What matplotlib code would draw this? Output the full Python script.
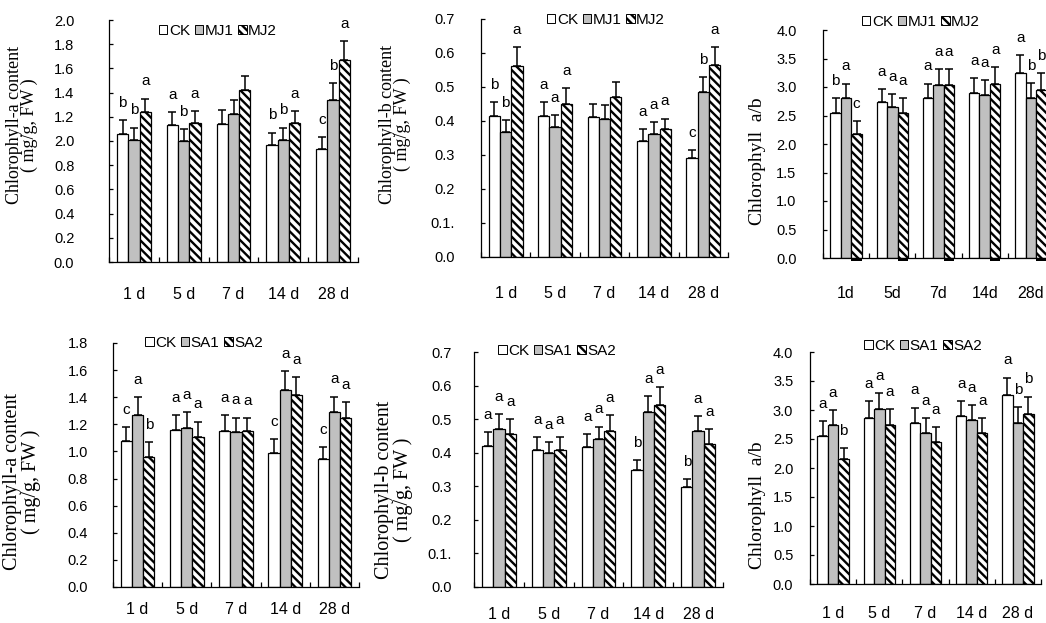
import matplotlib
matplotlib.use('Agg')
import matplotlib.pyplot as plt
from matplotlib.patches import Patch
import numpy as np

plt.rcParams['font.family'] = ['Liberation Sans', 'DejaVu Sans']
plt.rcParams['hatch.linewidth'] = 1.7

W, H = 1046, 623

days_sp = ['1 d', '5 d', '7 d', '14 d', '28 d']
days_ns = ['1d', '5d', '7d', '14d', '28d']

# ---------- Top row: methyl jasmonate (MJ) ----------
mj_names = ['CK', 'MJ1', 'MJ2']
mj_a_ck = [1.06, 1.13, 1.14, 0.97, 0.93]
mj_a_mj1 = [1.01, 1.00, 1.22, 1.01, 1.34]
mj_a_mj2 = [1.24, 1.15, 1.42, 1.15, 1.67]
mj_a_ck_err = [0.11, 0.11, 0.12, 0.10, 0.10]
mj_a_mj1_err = [0.10, 0.10, 0.12, 0.10, 0.14]
mj_a_mj2_err = [0.11, 0.10, 0.12, 0.10, 0.155]
mj_a_letters = [['b', 'b', 'a'], ['a', 'b', 'a'], ['', '', ''], ['b', 'b', 'a'], ['c', 'b', 'a']]

mj_b_ck = [0.416, 0.416, 0.411, 0.341, 0.291]
mj_b_mj1 = [0.367, 0.382, 0.406, 0.361, 0.485]
mj_b_mj2 = [0.562, 0.451, 0.472, 0.377, 0.566]
mj_b_ck_err = [0.04, 0.04, 0.04, 0.035, 0.024]
mj_b_mj1_err = [0.035, 0.035, 0.04, 0.035, 0.045]
mj_b_mj2_err = [0.055, 0.045, 0.044, 0.03, 0.052]
mj_b_letters = [['b', 'b', 'a'], ['a', 'a', 'a'], ['', '', ''], ['a', 'a', 'a'], ['c', 'b', 'a']]

mj_r_ck = [2.55, 2.74, 2.80, 2.89, 3.25]
mj_r_mj1 = [2.80, 2.65, 3.03, 2.86, 2.80]
mj_r_mj2 = [2.17, 2.55, 3.03, 3.06, 2.95]
mj_r_ck_err = [0.25, 0.23, 0.26, 0.26, 0.31]
mj_r_mj1_err = [0.26, 0.23, 0.28, 0.26, 0.27]
mj_r_mj2_err = [0.23, 0.25, 0.29, 0.29, 0.30]
mj_r_letters = [['b', 'a', 'c'], ['a', 'a', 'a'], ['a', 'a', 'a'], ['a', 'a', 'a'], ['a', 'b', 'b']]

# ---------- Bottom row: salicylic acid (SA) ----------
sa_names = ['CK', 'SA1', 'SA2']
sa_a_ck = [1.08, 1.16, 1.15, 0.99, 0.945]
sa_a_sa1 = [1.27, 1.17, 1.14, 1.455, 1.29]
sa_a_sa2 = [0.96, 1.11, 1.15, 1.42, 1.245]
sa_a_ck_err = [0.10, 0.11, 0.12, 0.10, 0.086]
sa_a_sa1_err = [0.13, 0.12, 0.11, 0.135, 0.115]
sa_a_sa2_err = [0.11, 0.11, 0.095, 0.128, 0.12]
sa_a_letters = [['c', 'a', 'b'], ['a', 'a', 'a'], ['a', 'a', 'a'], ['c', 'a', 'a'], ['c', 'a', 'a']]

sa_b_ck = [0.421, 0.408, 0.418, 0.349, 0.298]
sa_b_sa1 = [0.471, 0.398, 0.441, 0.52, 0.466]
sa_b_sa2 = [0.456, 0.408, 0.466, 0.543, 0.425]
sa_b_ck_err = [0.04, 0.038, 0.038, 0.03, 0.024]
sa_b_sa1_err = [0.044, 0.033, 0.037, 0.048, 0.043]
sa_b_sa2_err = [0.044, 0.038, 0.047, 0.053, 0.045]
sa_b_letters = [['a', 'a', 'a'], ['a', 'a', 'a'], ['a', 'a', 'a'], ['b', 'a', 'a'], ['b', 'a', 'a']]

sa_r_ck = [2.55, 2.86, 2.78, 2.89, 3.26]
sa_r_sa1 = [2.75, 3.01, 2.61, 2.835, 2.78]
sa_r_sa2 = [2.15, 2.75, 2.45, 2.61, 2.93]
sa_r_ck_err = [0.26, 0.29, 0.26, 0.26, 0.30]
sa_r_sa1_err = [0.25, 0.28, 0.25, 0.25, 0.27]
sa_r_sa2_err = [0.19, 0.27, 0.25, 0.25, 0.30]
sa_r_letters = [['a', 'a', 'b'], ['a', 'a', 'a'], ['a', 'a', 'a'], ['a', 'a', 'a'], ['a', 'b', 'b']]

yt_a_top = [0.0, 0.2, 0.4, 0.6, 0.8, 1.0, 1.2, 1.4, 1.6, 1.8, 2.0]
yl_a_top = ['0.0', '0.2', '0.4', '0.6', '0.8', '2.0', '1.2', '1.4', '1.6', '1.8', '2.0']
yt_a_bot = [0.0, 0.2, 0.4, 0.6, 0.8, 1.0, 1.2, 1.4, 1.6, 1.8]
yl_a_bot = ['0.0', '0.2', '0.4', '0.6', '0.8', '1.0', '1.2', '1.4', '1.6', '1.8']
yt_b = [0.0, 0.1, 0.2, 0.3, 0.4, 0.5, 0.6, 0.7]
yl_b = ['0.0', '0.1.', '0.2', '0.3', '0.4', '0.5', '0.6', '0.7']
yt_r = [0.0, 0.5, 1.0, 1.5, 2.0, 2.5, 3.0, 3.5, 4.0]
yl_r = ['0.0', '0.5', '1.0', '1.5', '2.0', '2.5', '3.0', '3.5', '4.0']

lab_a = 'Chlorophyll-a content\n( mg/g, FW )'
lab_b = 'Chlorophyll-b content\n( mg/g, FW )'
lab_r = 'Chlorophyll  a/b'

fig = plt.figure(figsize=(W / 100, H / 100), dpi=100)

BAR_STYLES = [dict(facecolor='white'),
              dict(facecolor='#c0c0c0'),
              dict(facecolor='white', hatch='\\\\\\\\')]


def px_rect(x0, x1, ytop, ybot):
    return [x0 / W, 1 - ybot / H, (x1 - x0) / W, (ybot - ytop) / H]


def panel(box, series, errs, letters, names, yticks, yticklabels, xlabels,
          ylabel, ylab_pos, ylab_size, legend_pos, ypad, xpad, base_block=False):
    ax = fig.add_axes(px_rect(*box))
    x = np.arange(len(xlabels))
    w = 0.227
    for i in range(3):
        pos = x + (i - 1) * w
        vals = np.asarray(series[i])
        err = np.asarray(errs[i])
        ax.bar(pos, vals, w, edgecolor='black', linewidth=0.9, zorder=2,
               **BAR_STYLES[i])
        ax.errorbar(pos, vals, yerr=[np.zeros_like(err), err], fmt='none',
                    ecolor='black', elinewidth=1.1, capsize=2.6, capthick=1.1,
                    zorder=3)
        if base_block and i == 2:
            ax.bar(pos, np.full_like(vals, yticks[-1] * 0.014), w,
                   bottom=-yticks[-1] * 0.014, color='black', zorder=4,
                   clip_on=False)
        for p, v, e, grp in zip(pos, vals, err, letters):
            if grp[i]:
                ax.annotate(grp[i], (p, v + e), xytext=(0, 9.5),
                            textcoords='offset points', ha='center',
                            va='baseline', fontsize=11)
    ax.set_xlim(-0.5, len(xlabels) - 0.5)
    ax.set_ylim(yticks[0], yticks[-1])
    for s in ['top', 'right']:
        ax.spines[s].set_visible(False)
    for s in ['left', 'bottom']:
        ax.spines[s].set_linewidth(0.9)
    ax.set_yticks(yticks)
    ax.set_yticklabels(yticklabels)
    ax.tick_params(axis='y', direction='in', length=3, width=0.9,
                   labelsize=10.5, pad=ypad)
    ax.set_xticks(np.arange(-0.5, len(xlabels), 1.0))
    ax.set_xticklabels([])
    ax.set_xticks(x, minor=True)
    ax.set_xticklabels(xlabels, minor=True)
    ax.tick_params(axis='x', which='major', direction='in', length=3.5,
                   width=0.9)
    ax.tick_params(axis='x', which='minor', length=0, labelsize=11.5, pad=xpad)
    handles = [Patch(edgecolor='black', linewidth=0.7, **BAR_STYLES[i],
                     label=names[i]) for i in range(3)]
    ax.legend(handles=handles, loc='center',
              bbox_to_anchor=(legend_pos[0] / W, 1 - legend_pos[1] / H),
              bbox_transform=fig.transFigure, ncol=3, frameon=False,
              handlelength=0.55, handleheight=0.55, handletextpad=0.1,
              columnspacing=0.3, fontsize=11, borderpad=0, borderaxespad=0)
    fig.text(ylab_pos[0] / W, 1 - ylab_pos[1] / H, ylabel, rotation=90,
             ha='center', va='center', multialignment='center',
             family='Liberation Serif', fontsize=ylab_size, linespacing=0.9)
    return ax


panel((109, 358, 20, 262), [mj_a_ck, mj_a_mj1, mj_a_mj2],
      [mj_a_ck_err, mj_a_mj1_err, mj_a_mj2_err], mj_a_letters, mj_names,
      yt_a_top, yl_a_top, days_sp, lab_a, (22, 125), 13, (218, 31), 25, 18)
panel((481, 728, 19, 257), [mj_b_ck, mj_b_mj1, mj_b_mj2],
      [mj_b_ck_err, mj_b_mj1_err, mj_b_mj2_err], mj_b_letters, mj_names,
      yt_b, yl_b, days_sp, lab_b, (395, 124), 13, (606, 20), 19, 21)
panel((823, 1054, 30, 258), [mj_r_ck, mj_r_mj1, mj_r_mj2],
      [mj_r_ck_err, mj_r_mj1_err, mj_r_mj2_err], mj_r_letters, mj_names,
      yt_r, yl_r, days_ns, lab_r, (757, 161), 14, (921, 22), 19, 20,
      base_block=True)
panel((113, 359, 343, 587), [sa_a_ck, sa_a_sa1, sa_a_sa2],
      [sa_a_ck_err, sa_a_sa1_err, sa_a_sa2_err], sa_a_letters, sa_names,
      yt_a_bot, yl_a_bot, days_sp, lab_a, (22, 482), 14.5, (204, 343), 18, 11)
panel((474, 723, 352, 587), [sa_b_ck, sa_b_sa1, sa_b_sa2],
      [sa_b_ck_err, sa_b_sa1_err, sa_b_sa2_err], sa_b_letters, sa_names,
      yt_b, yl_b, days_sp, lab_b, (394, 490), 14.5, (557, 351), 16, 14.5)
panel((810, 1041, 352, 584), [sa_r_ck, sa_r_sa1, sa_r_sa2],
      [sa_r_ck_err, sa_r_sa1_err, sa_r_sa2_err], sa_r_letters, sa_names,
      yt_r, yl_r, days_sp, lab_r, (757, 505), 14, (923, 346), 12, 16)

fig.savefig('out.png', dpi=100)
